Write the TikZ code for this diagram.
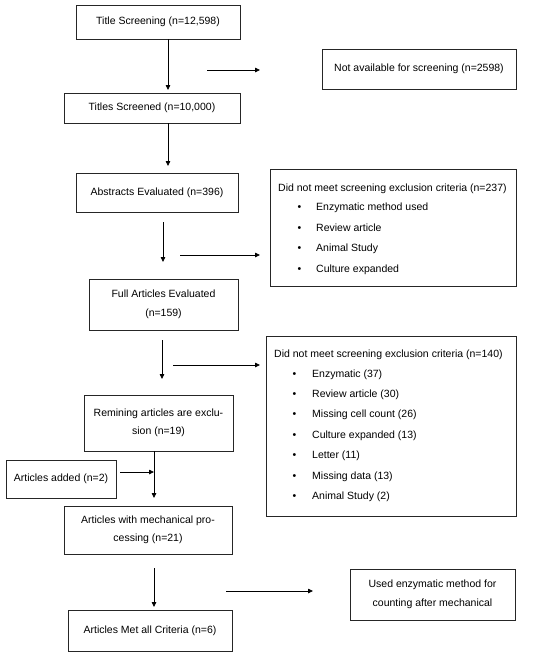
\documentclass[tikz,border=0pt]{standalone}
\usepackage{fontspec}
\setmainfont{Liberation Sans}
\usetikzlibrary{arrows.meta}
\begin{document}
\begin{tikzpicture}[x=1pt,y=-1pt,
  box/.style={draw=black!85,line width=0.8pt,inner sep=0pt,align=center,
    font=\fontsize{10.5}{18.5}\selectfont},
  txt/.style={inner sep=0pt,anchor=base west,font=\fontsize{10.5}{12}\selectfont},
  arr/.style={draw=black,line width=0.8pt,-{Triangle[length=5pt,width=4.5pt]}}]
\useasboundingbox (0,0) rectangle (550,657);
\fill[white] (0,0) rectangle (550,657);
% boxes
\node[box,minimum width=164pt,minimum height=34pt] (ts) at (158,22) {Title Screening (n=12,598)};
\node[box,minimum width=194pt,minimum height=40pt] (na) at (419,69) {Not available for screening (n=2598)};
\node[box,minimum width=176pt,minimum height=30pt] (tsc) at (152,108) {Titles Screened (n=10,000)};
\node[box,minimum width=162pt,minimum height=39pt] (ab) at (157,192.5) {Abstracts Evaluated (n=396)};
\node[box,minimum width=246pt,minimum height=117pt] (ex1) at (393,227.5) {};
\node[box,minimum width=149pt,minimum height=51pt] (fa) at (163.5,304.5) {Full Articles Evaluated\\(n=159)};
\node[box,minimum width=250pt,minimum height=180pt] (ex2) at (391,426) {};
\node[box,minimum width=149pt,minimum height=56pt] (rem) at (158.5,423) {Remining articles are exclu-\\sion (n=19)};
\node[box,minimum width=110pt,minimum height=38pt] (add) at (61,479) {Articles added (n=2)};
\node[box,minimum width=168pt,minimum height=48pt] (mech) at (148,530) {Articles with mechanical pro-\\cessing (n=21)};
\node[box,minimum width=165pt,minimum height=51pt] (used) at (432.5,594.5) {Used enzymatic method for\\counting after mechanical};
\node[box,minimum width=164pt,minimum height=41pt] (met) at (150,630.5) {Articles Met all Criteria (n=6)};
% exclusion list 1
\node[txt] (ex1h) at (278,191.8) {Did not meet screening exclusion criteria (n=237)};
\foreach \y/\t [count=\i] in {207/Enzymatic method used,227.5/Review article,248/Animal Study,268.5/Culture expanded}{
  \node[txt] (ex1b\i) at (297.5,\y+3.8) {•};
  \node[txt] (ex1t\i) at (316,\y+3.8) {\t};
}
% exclusion list 2
\node[txt] (ex2h) at (274,357.8) {Did not meet screening exclusion criteria (n=140)};
\foreach \y/\t [count=\i] in {373.5/Enzymatic (37),393.5/Review article (30),414/Missing cell count (26),434.5/Culture expanded (13),455/Letter (11),475.5/Missing data (13),496/Animal Study (2)}{
  \node[txt] (ex2b\i) at (292.5,\y+3.8) {•};
  \node[txt] (ex2t\i) at (312,\y+3.8) {\t};
}
% arrow coordinates
\coordinate (a1e) at (168,90);
\coordinate (s1s) at (207,70); \coordinate (s1e) at (260,70);
\coordinate (a2e) at (168,166);
\coordinate (a3s) at (163,222); \coordinate (a3e) at (163,262);
\coordinate (s2s) at (180,255); \coordinate (s2e) at (260,255);
\coordinate (a4s) at (162,340); \coordinate (a4e) at (162,379);
\coordinate (s3s) at (173,365); \coordinate (s3e) at (260,365);
\coordinate (a5e) at (154,498);
\coordinate (ads) at (120,472); \coordinate (ade) at (154,472);
\coordinate (a6s) at (154,568); \coordinate (a6e) at (154,607);
\coordinate (s4s) at (226,591); \coordinate (s4e) at (313,591);
% arrows
\draw[arr] (ts.south -| a1e) -- (a1e);
\draw[arr] (s1s) -- (s1e);
\draw[arr] (tsc.south -| a2e) -- (a2e);
\draw[arr] (a3s) -- (a3e);
\draw[arr] (s2s) -- (s2e);
\draw[arr] (a4s) -- (a4e);
\draw[arr] (s3s) -- (s3e);
\draw[arr] (rem.south -| a5e) -- (a5e);
\draw[arr] (ads) -- (ade);
\draw[arr] (a6s) -- (a6e);
\draw[arr] (s4s) -- (s4e);
\end{tikzpicture}
\end{document}
